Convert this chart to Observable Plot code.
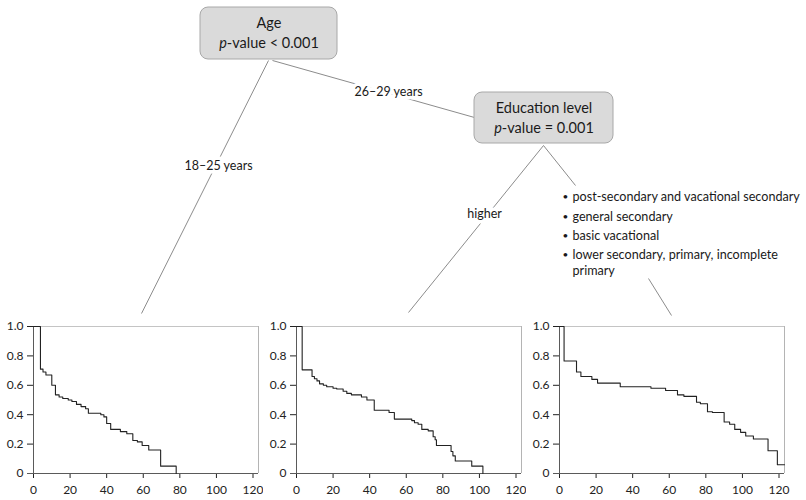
<!DOCTYPE html>
<html><head><meta charset="utf-8">
<script src="https://cdn.jsdelivr.net/npm/d3@7"></script>
<script src="https://cdn.jsdelivr.net/npm/@observablehq/plot@0.6"></script>
<style>
body{margin:0;background:#fff;}
#fig{position:relative;width:806px;height:500px;font-family:Lato,sans-serif;}
#fig svg{position:absolute;}
</style></head><body><div id="fig"></div>
<script>
// ---------- data ----------
const nodeTitles = ["Age", "Education level"];
const nodePValues = ["p-value < 0.001", "p-value = 0.001"];
const edgeLabels = ["18–25 years", "26–29 years", "higher"];
const educationGroups = [
  "post-secondary and vacational secondary",
  "general secondary",
  "basic vacational",
  "lower secondary, primary, incomplete\nprimary"
];
const xTicks = [0, 20, 40, 60, 80, 100, 120];
const yTicks = [0, 0.2, 0.4, 0.6, 0.8, 1.0];

// panel 1: 18–25 years
const time1 = [0, 3.8, 5.2, 6.8, 10, 12, 14, 16, 19, 21, 23.5, 26, 28.5, 30, 36.8, 38.5, 40, 42.2, 47.5, 51, 54.3, 56.8, 59.4, 63, 69.5, 78];
const surv1 = [1.0, 0.71, 0.69, 0.67, 0.60, 0.535, 0.52, 0.51, 0.50, 0.49, 0.47, 0.455, 0.44, 0.41, 0.40, 0.385, 0.34, 0.30, 0.285, 0.27, 0.225, 0.215, 0.19, 0.16, 0.05, 0];
const end1 = 78;
// panel 2: 26–29 years, higher education
const time2 = [0, 3.1, 8.5, 9.8, 11.2, 12.6, 14.7, 16.5, 20, 22, 25.5, 27.5, 30, 35.5, 38.5, 42.5, 50.6, 53.5, 63, 64.5, 66.5, 68.5, 72, 74.7, 75.8, 76.5, 84.5, 85.5, 86.8, 95.8, 101.9];
const surv2 = [1.0, 0.705, 0.66, 0.645, 0.63, 0.61, 0.60, 0.59, 0.58, 0.575, 0.56, 0.545, 0.535, 0.52, 0.50, 0.43, 0.415, 0.37, 0.36, 0.345, 0.335, 0.30, 0.29, 0.25, 0.23, 0.19, 0.15, 0.12, 0.085, 0.05, 0];
const end2 = 101.9;
// panel 3: 26–29 years, other education
const time3 = [0, 2.5, 9.3, 11.7, 17.7, 20.8, 33.2, 50, 58, 64.5, 68, 74.9, 77, 80.9, 83.6, 90, 93, 95.8, 99, 101.8, 106, 114, 119.1];
const surv3 = [1.0, 0.765, 0.69, 0.66, 0.64, 0.615, 0.59, 0.58, 0.565, 0.535, 0.525, 0.485, 0.475, 0.42, 0.415, 0.35, 0.335, 0.30, 0.28, 0.255, 0.235, 0.155, 0.06];
const end3 = 123;

// ---------- layout (positions only) ----------
const nodeBoxes = [{x1: 200, x2: 337, y1: 7, y2: 59}, {x1: 474, x2: 613, y1: 92, y2: 143}];
const linkPos = [[268, 60, 141, 313], [272, 60, 474, 117], [543, 145, 408, 312], [543, 145, 575, 185], [648, 278, 671, 315]];
const edgeLabelPos = [[218, 165], [388, 91], [484, 213]];
const listPos = {bx: 565, tx: 572, ys: [196, 216, 235, 254], lineGap: 16.7};
const panelPos = [{left: 0, width: 263}, {left: 263, width: 263}, {left: 526, width: 280}];
const xMax = 123;

const fig = document.getElementById("fig");
const font = "Lato, sans-serif";

// ---------- tree ----------
const nodes = nodeBoxes.map((b, i) => ({...b, cx: (b.x1 + b.x2) / 2, cy: (b.y1 + b.y2) / 2, title: nodeTitles[i], p: nodePValues[i]}));
const links = linkPos.map(([x1, y1, x2, y2]) => ({x1, y1, x2, y2}));
const edges = edgeLabels.map((t, i) => ({text: t, x: edgeLabelPos[i][0], y: edgeLabelPos[i][1]}));
const listLines = [];
const bullets = [];
educationGroups.forEach((g, i) => {
  bullets.push({x: listPos.bx, y: listPos.ys[i]});
  g.split("\n").forEach((line, j) => listLines.push({text: line, x: listPos.tx, y: listPos.ys[i] + j * listPos.lineGap}));
});

const tree = Plot.plot({
  width: 806, height: 500, margin: 0,
  x: {type: "identity", axis: null}, y: {type: "identity", axis: null},
  style: {background: "transparent", fontFamily: font},
  marks: [
    Plot.link(links, {x1: "x1", y1: "y1", x2: "x2", y2: "y2", stroke: "#8c8c8c", strokeWidth: 1}),
    Plot.text(edges, {x: "x", y: "y", text: "text", fontSize: 12.5, fill: "#1a1a1a", stroke: "white", strokeWidth: 7}),
    Plot.rect(nodes, {x1: "x1", x2: "x2", y1: "y1", y2: "y2", fill: "#dadada", stroke: "#a8a8a8", strokeWidth: 1, rx: 8}),
    Plot.text(nodes, {x: "cx", y: d => d.cy - 10, text: "title", fontSize: 14.5, fill: "#1a1a1a"}),
    Plot.text(nodes, {x: "cx", y: d => d.cy + 10, text: "p", fontSize: 14.5, fill: "#1a1a1a"}),
    Plot.text(bullets, {x: "x", y: "y", text: () => "•", fontSize: 10, fill: "#1a1a1a"}),
    Plot.text(listLines, {x: "x", y: "y", text: "text", textAnchor: "start", fontSize: 12.6, fill: "#1a1a1a"})
  ]
});
d3.select(tree).selectAll("text").filter(function() { return this.textContent.startsWith("p-value"); })
  .each(function() {
    const s = this.textContent;
    this.textContent = "";
    d3.select(this).append("tspan").attr("font-style", "italic").text("p");
    d3.select(this).append("tspan").text(s.slice(1));
  });
tree.style.left = "0px"; tree.style.top = "0px";
fig.appendChild(tree);

// ---------- survival panels ----------
function km(times, surv, end, pos) {
  const data = times.map((t, i) => ({t, s: surv[i]}));
  if (end > times[times.length - 1]) data.push({t: end, s: surv[surv.length - 1]});
  const plot = Plot.plot({
    width: pos.width, height: 200,
    marginLeft: 33, marginRight: pos.width - 33 - 225, marginTop: 26, marginBottom: 27,
    style: {background: "transparent", fontFamily: font, fontSize: "12px", color: "#222"},
    x: {domain: [0, xMax], ticks: xTicks, tickSize: 5, tickPadding: 7, label: null},
    y: {domain: [0, 1], ticks: yTicks, tickFormat: d => d === 0 ? "0" : d.toFixed(1), tickSize: 6, tickPadding: 4, label: null},
    marks: [
      Plot.ruleY([1], {stroke: "#c4c4c4"}),
      Plot.ruleX([xMax], {stroke: "#b4b4b4"}),
      Plot.ruleX([0], {stroke: "#5a5a5a"}),
      Plot.ruleY([0], {stroke: "#5a5a5a", insetLeft: -6}),
      Plot.line(data, {x: "t", y: "s", curve: "step-after", stroke: "#222", strokeWidth: 1.1})
    ]
  });
  plot.style.left = pos.left + "px";
  plot.style.top = "300px";
  return plot;
}
fig.appendChild(km(time1, surv1, end1, panelPos[0]));
fig.appendChild(km(time2, surv2, end2, panelPos[1]));
fig.appendChild(km(time3, surv3, end3, panelPos[2]));
</script></body></html>
